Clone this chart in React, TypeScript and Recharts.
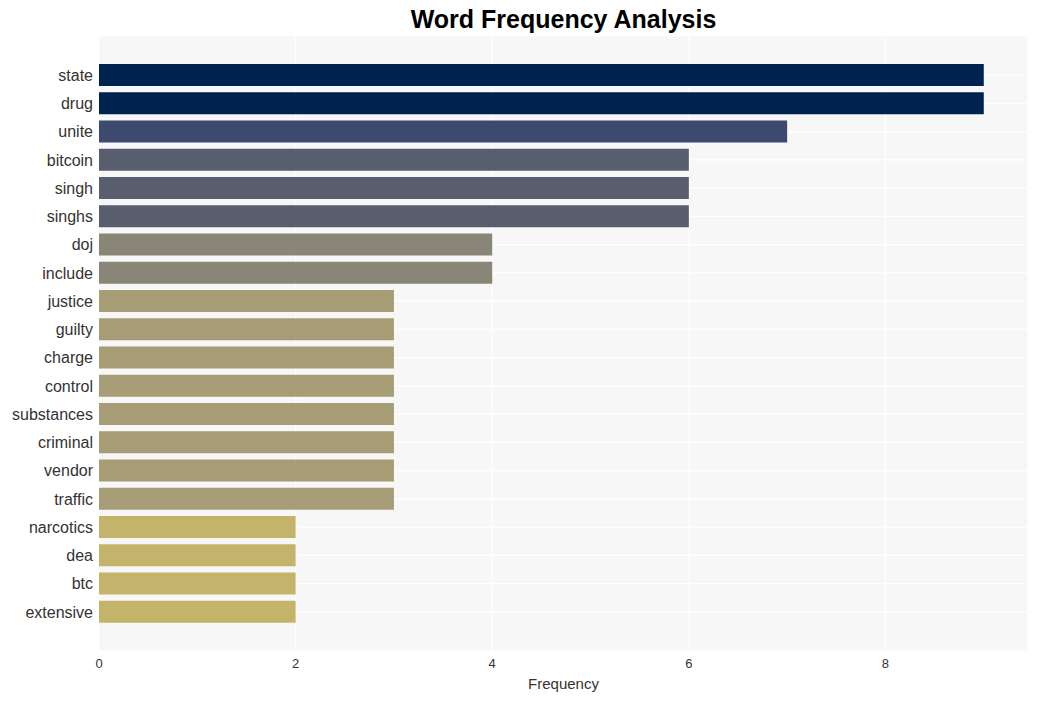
import { BarChart, Bar, XAxis, YAxis, CartesianGrid, Cell } from 'recharts';

const words = [
  'state', 'drug', 'unite', 'bitcoin', 'singh', 'singhs', 'doj', 'include', 'justice', 'guilty',
  'charge', 'control', 'substances', 'criminal', 'vendor', 'traffic', 'narcotics', 'dea', 'btc', 'extensive',
];
const counts = [9, 9, 7, 6, 6, 6, 4, 4, 3, 3, 3, 3, 3, 3, 3, 3, 2, 2, 2, 2];
const xTicks = [0, 2, 4, 6, 8];

// colour by frequency value
const colorFor: Record<number, string> = {
  9: '#00224e',
  7: '#3c4a70',
  6: '#585e6e',
  4: '#8a8677',
  3: '#a69c75',
  2: '#c4b36a',
};

const data = words.map((word, i) => ({ word, count: counts[i] }));

const font = '"Liberation Sans", Arial, sans-serif';

export default function App() {
  return (
    <div style={{ position: 'fixed', left: 0, top: 0, width: 1038, height: 701, background: '#fff', fontFamily: font }}>
      <div
        style={{
          position: 'absolute',
          left: 99,
          width: 929,
          top: 5,
          textAlign: 'center',
          fontSize: 25,
          fontWeight: 'bold',
          color: '#000',
        }}
      >
        Word Frequency Analysis
      </div>
      <BarChart
        width={1038}
        height={701}
        data={data}
        layout="vertical"
        margin={{ top: 36, right: 10, bottom: 0, left: 0 }}
        barSize={22}
        style={{ fontFamily: font }}
      >
        <CartesianGrid stroke="#ffffff" strokeWidth={1.2} fill="#f7f7f7" fillOpacity={1} />
        <XAxis
          type="number"
          domain={[0, 9.45]}
          ticks={xTicks}
          axisLine={false}
          tickLine={false}
          height={50}
          tick={{ fontSize: 13, fill: '#333' }}
          tickMargin={2}
          label={{ value: 'Frequency', position: 'insideBottom', offset: 12, fontSize: 15, fill: '#333' }}
        />
        <YAxis
          type="category"
          dataKey="word"
          width={99}
          axisLine={false}
          tickLine={false}
          interval={0}
          padding={{ top: 25, bottom: 25 }}
          tick={{ fontSize: 16, fill: '#333' }}
          tickMargin={0}
        />
        <Bar dataKey="count" isAnimationActive={false}>
          {data.map((d) => (
            <Cell key={d.word} fill={colorFor[d.count]} />
          ))}
        </Bar>
      </BarChart>
    </div>
  );
}
